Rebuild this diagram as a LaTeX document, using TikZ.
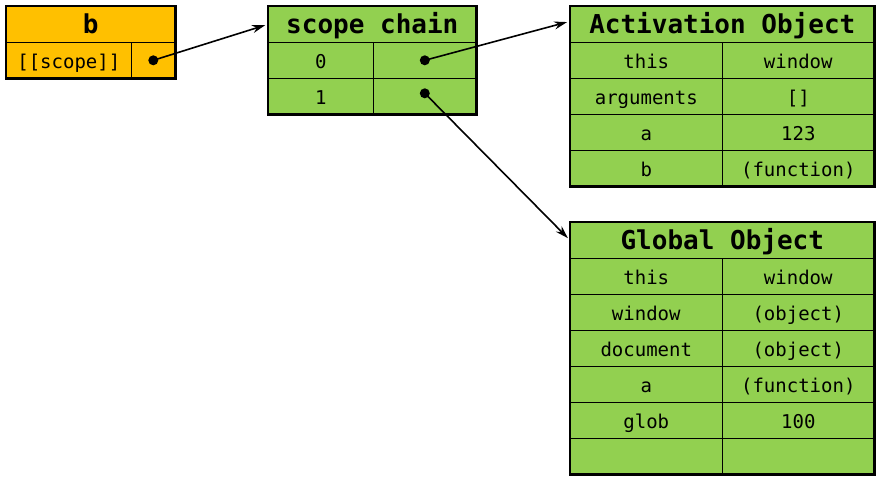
\documentclass[tikz,border=0pt]{standalone}
\usepackage{fontspec}
\setmonofont{DejaVu Sans Mono}
\usepackage{xcolor}
\usetikzlibrary{arrows.meta,positioning}
\definecolor{boxorange}{HTML}{FFC000}
\definecolor{boxgreen}{HTML}{92D050}
\tikzset{
	hdr/.style={draw,line width=0.6pt,anchor=north west,minimum height=36pt,inner sep=0pt,
		text height=21pt,text depth=3pt,
		font=\ttfamily\bfseries\fontsize{26}{26}\selectfont},
	cell/.style={draw,line width=0.6pt,anchor=north west,minimum height=36pt,inner sep=0pt,
		text height=16pt,text depth=0pt,
		font=\ttfamily\fontsize{19}{19}\selectfont},
	frame/.style={line width=2.6pt},
	dot/.style={circle,fill,inner sep=0pt,minimum size=10pt},
	ptr/.style={-{Stealth[length=13pt,width=8pt]},line width=1.6pt,shorten >=3pt}
}
\begin{document}
\begin{tikzpicture}[x=1pt,y=-1pt]
	\useasboundingbox (0,0) rectangle (880,482);

	%function b
	\node[hdr,fill=boxorange,minimum width=169pt] (bhead) at (6,6) {b};
	\node[cell,fill=boxorange,minimum width=125pt] (bkey) at (6,42) {[[scope]]};
	\node[cell,fill=boxorange,minimum width=44pt] (bval) at (131,42) {};
	\draw[frame] (bhead.north west) rectangle (bval.south east);

	%scope chain
	\node[hdr,fill=boxgreen,minimum width=208pt] (schead) at (268,6) {scope chain};
	\foreach \i in {0,1}{
		\node[cell,fill=boxgreen,minimum width=105pt] (sck\i) at (268,{42+36*\i}) {\i};
		\node[cell,fill=boxgreen,minimum width=103pt] (scv\i) at (373,{42+36*\i}) {};
	}
	\draw[frame] (schead.north west) rectangle (scv1.south east);

	%activation object
	\node[hdr,fill=boxgreen,minimum width=304pt] (aohead) at (570,6) {Activation Object};
	\foreach \k/\v [count=\i] in {this/window, arguments/{[]}, a/123, b/{(function)}}{
		\node[cell,fill=boxgreen,minimum width=152pt] (aok\i) at (570,{6+36*\i}) {\k};
		\node[cell,fill=boxgreen,minimum width=152pt] (aov\i) at (722,{6+36*\i}) {\v};
	}
	\draw[frame] (aohead.north west) rectangle (aov4.south east);

	%global object
	\node[hdr,fill=boxgreen,minimum width=304pt] (gohead) at (570,222) {Global Object};
	\foreach \k/\v [count=\i] in {this/window, window/{(object)}, document/{(object)},
			a/{(function)}, glob/100}{
		\node[cell,fill=boxgreen,minimum width=152pt] (gok\i) at (570,{222+36*\i}) {\k};
		\node[cell,fill=boxgreen,minimum width=152pt] (gov\i) at (722,{222+36*\i}) {\v};
	}
	\node[cell,fill=boxgreen,minimum width=152pt] (gok6) at (570,438) {};
	\node[cell,fill=boxgreen,minimum width=152pt] (gov6) at (722,438) {};
	\draw[frame] (gohead.north west) rectangle (gov6.south east);

	%pointers
	\node[dot] (bdot) at (bval.center) {};
	\node[dot] (scdot0) at (scv0.center) {};
	\node[dot] (scdot1) at ([yshift=3pt]scv1.center) {};
	\draw[ptr] (bdot.center) -- (schead.west);
	\draw[ptr] (scdot0.center) -- ([yshift=3pt]aohead.west);
	\draw[ptr] (scdot1.center) -- (gohead.west);

\end{tikzpicture}
\end{document}
